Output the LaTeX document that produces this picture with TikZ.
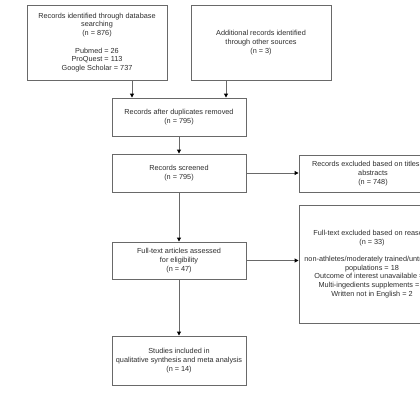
\documentclass[tikz,border=0pt]{standalone}
\usepackage{fontspec}
\setmainfont{Liberation Sans}
\usetikzlibrary{arrows.meta}
\definecolor{boxline}{RGB}{105,105,105}
\definecolor{boxtext}{RGB}{45,45,45}
\tikzset{
  prbox/.style={draw=boxline, line width=0.9pt, align=center, inner sep=0pt,
    text=boxtext, font=\fontsize{7.3}{8.7}\selectfont},
  prarrow/.style={draw=boxline, line width=0.9pt,
    -{Triangle[length=4pt,width=4pt,color=black]}}
}
\begin{document}
\begin{tikzpicture}[x=1pt,y=-1pt]
  % Frame of the picture
  \useasboundingbox (0,0) rectangle (420,400);
  \fill[white] (0,0) rectangle (420,400);
  \clip (0,0) rectangle (420,400);

  % Identification
  \node[prbox, minimum width=140pt, minimum height=75pt] (dbrec) at (97,42.5)
    {Records identified through database\\searching\\(n = 876)\\[8.7pt]Pubmed = 26\\ProQuest = 113\\Google Scholar = 737};
  \node[prbox, minimum width=140pt, minimum height=75pt] (otherrec) at (261,42.5)
    {Additional records identified\\through other sources\\(n = 3)};

  % Screening
  \node[prbox, minimum width=134pt, minimum height=38pt] (dupl) at (179,117)
    {Records after duplicates removed\\(n = 795)};
  \node[prbox, minimum width=134pt, minimum height=38pt] (screen) at (179,173)
    {Records screened\\(n = 795)};
  \node[prbox, minimum width=148pt, minimum height=37pt] (excta) at (373,173.5)
    {Records excluded based on titles and\\abstracts\\(n = 748)};

  % Eligibility
  \node[prbox, minimum width=134pt, minimum height=37pt] (elig) at (179,260.5)
    {Full-text articles assessed\\for eligibility\\(n = 47)};
  \node[prbox, minimum width=146pt, minimum height=118pt] (excft) at (372,264)
    {Full-text excluded based on reasons\\(n = 33)\\[8.7pt]non-athletes/moderately trained/untrained\\populations = 18\\Outcome of interest unavailable = 9\\Multi-ingedients supplements = 4\\Written not in English = 2};

  % Included
  \node[prbox, minimum width=134pt, minimum height=49pt] (incl) at (179,360.5)
    {Studies included in\\qualitative synthesis and meta analysis\\(n = 14)};

  % Arrows
  \coordinate (dbout) at ([xshift=35pt]dbrec.south);
  \coordinate (otherout) at ([xshift=-35pt]otherrec.south);
  \draw[prarrow] (dbout) -- (dbout |- dupl.north);
  \draw[prarrow] (otherout) -- (otherout |- dupl.north);
  \draw[prarrow] (dupl) -- (screen);
  \draw[prarrow] (screen.east) -- (screen.east -| excta.west);
  \draw[prarrow] (screen) -- (elig);
  \draw[prarrow] (elig.east) -- (elig.east -| excft.west);
  \draw[prarrow] (elig) -- (incl);
\end{tikzpicture}
\end{document}
